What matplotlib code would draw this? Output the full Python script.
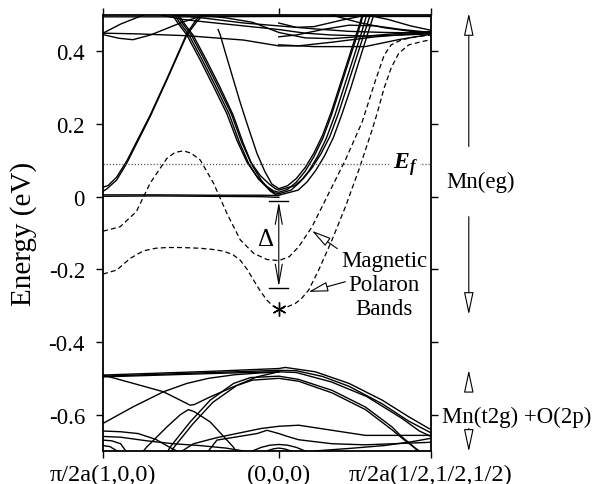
import matplotlib
matplotlib.use("Agg")
import matplotlib.pyplot as plt

plt.rcParams["font.family"] = ["Liberation Serif", "DejaVu Serif"]
plt.rcParams["mathtext.fontset"] = "custom"
plt.rcParams["mathtext.rm"] = "Liberation Serif"
plt.rcParams["mathtext.it"] = "Liberation Serif:italic"
plt.rcParams["mathtext.bf"] = "Liberation Serif:bold:italic"

# ---------------------------------------------------------------------------
# k-path: X = pi/2a(1,0,0) -> Gamma -> R = pi/2a(1/2,1/2,1/2)
# ---------------------------------------------------------------------------
K_TICKS = [0.0, 1.0, 1.866]
K_LABELS = ["π/2a(1,0,0)", "(0,0,0)", "π/2a(1/2,1/2,1/2)"]
E_TICKS = [-0.6, -0.4, -0.2, 0.0, 0.2, 0.4]
E_LABELS = ["-0.6", "-0.4", "-0.2", "0", "0.2", "0.4"]
E_MIN, E_MAX = -0.70, 0.50
E_FERMI = 0.091

# --- magnetic polaron bands (dashed), (k, E) -------------------------------
pol_upper = [(0.0, -0.095), (0.097, -0.083), (0.19, -0.041), (0.268, 0.037),
             (0.363, 0.105), (0.41, 0.122), (0.458, 0.126), (0.50, 0.120),
             (0.553, 0.101), (0.629, 0.037), (0.705, -0.046), (0.781, -0.119),
             (0.857, -0.156), (0.933, -0.173), (1.0, -0.176), (1.06, -0.165),
             (1.113, -0.138), (1.189, -0.083), (1.284, 0.009), (1.379, 0.101),
             (1.474, 0.205), (1.55, 0.32), (1.60, 0.39), (1.64, 0.418),
             (1.70, 0.432), (1.78, 0.44), (1.866, 0.445)]
pol_lower = [(0.0, -0.213), (0.078, -0.202), (0.154, -0.17), (0.23, -0.149),
             (0.30, -0.142), (0.363, -0.14), (0.45, -0.14), (0.553, -0.142),
             (0.62, -0.145), (0.686, -0.15), (0.74, -0.16), (0.781, -0.175),
             (0.82, -0.20), (0.857, -0.23), (0.895, -0.26), (0.933, -0.285),
             (0.965, -0.30), (1.0, -0.31), (1.05, -0.303), (1.094, -0.294),
             (1.13, -0.28), (1.17, -0.257), (1.227, -0.202), (1.303, -0.119),
             (1.379, -0.028), (1.455, 0.073), (1.531, 0.184), (1.56, 0.23),
             (1.60, 0.30), (1.64, 0.355), (1.683, 0.395), (1.74, 0.418),
             (1.816, 0.427), (1.866, 0.432)]
pol_min = (1.0, -0.31)

# --- Mn(eg) bands ----------------------------------------------------------
eg_par1 = [(0.395, 0.50), (0.43, 0.475), (0.477, 0.445), (0.553, 0.376),
           (0.629, 0.303), (0.705, 0.228), (0.762, 0.155), (0.819, 0.095),
           (0.876, 0.055), (0.933, 0.028), (0.97, 0.016), (1.0, 0.012),
           (1.05, 0.02), (1.10, 0.04), (1.15, 0.07), (1.20, 0.11),
           (1.25, 0.16), (1.30, 0.225), (1.35, 0.30), (1.40, 0.375),
           (1.45, 0.45), (1.48, 0.50)]
eg_par2 = [(0.407, 0.50), (0.442, 0.475), (0.489, 0.445), (0.565, 0.376),
           (0.641, 0.303), (0.717, 0.228), (0.774, 0.152), (0.83, 0.09),
           (0.885, 0.048), (0.94, 0.022), (0.975, 0.011), (1.0, 0.008),
           (1.07, 0.018), (1.12, 0.04), (1.17, 0.07), (1.22, 0.11),
           (1.27, 0.16), (1.32, 0.225), (1.37, 0.30), (1.42, 0.375),
           (1.47, 0.45), (1.50, 0.50)]
eg_par3 = [(0.42, 0.50), (0.455, 0.475), (0.502, 0.445), (0.578, 0.376),
           (0.654, 0.303), (0.73, 0.228), (0.787, 0.152), (0.84, 0.095),
           (0.895, 0.058), (0.945, 0.035), (0.98, 0.022), (1.0, 0.018),
           (1.09, 0.03), (1.14, 0.05), (1.19, 0.08), (1.24, 0.118),
           (1.29, 0.165), (1.34, 0.23), (1.39, 0.305), (1.44, 0.38),
           (1.49, 0.455), (1.52, 0.50)]
eg_par4 = [(0.43, 0.50), (0.465, 0.475), (0.512, 0.445), (0.588, 0.376),
           (0.664, 0.303), (0.74, 0.225), (0.797, 0.148), (0.85, 0.085),
           (0.905, 0.042), (0.95, 0.016), (0.98, 0.006), (1.0, 0.004),
           (1.11, 0.018), (1.16, 0.04), (1.21, 0.072), (1.26, 0.112),
           (1.31, 0.162), (1.36, 0.228), (1.41, 0.30), (1.46, 0.378),
           (1.51, 0.455), (1.54, 0.50)]
eg_steep = [(0.655, 0.46), (0.667, 0.445), (0.70, 0.39), (0.74, 0.325),
            (0.78, 0.26), (0.82, 0.20), (0.876, 0.119), (0.92, 0.07),
            (0.96, 0.035), (1.0, 0.022), (1.05, 0.03), (1.10, 0.05),
            (1.15, 0.08), (1.20, 0.12), (1.25, 0.17), (1.30, 0.235),
            (1.35, 0.31), (1.40, 0.385), (1.45, 0.46), (1.475, 0.50)]
eg_rise1 = [(0.0, 0.015), (0.021, 0.021), (0.078, 0.046), (0.135, 0.092),
            (0.192, 0.147), (0.268, 0.22), (0.363, 0.321), (0.477, 0.445),
            (0.534, 0.482), (0.57, 0.50)]
eg_rise2 = [(0.0, 0.026), (0.03, 0.031), (0.078, 0.054), (0.135, 0.098),
            (0.192, 0.152), (0.268, 0.224), (0.363, 0.324), (0.477, 0.449),
            (0.53, 0.487), (0.56, 0.50)]
eg_flat1 = [(0.0, 0.005), (0.3, 0.005), (0.6, 0.004), (0.9, 0.004), (1.0, 0.003)]
eg_flat2 = [(0.0, 0.001), (0.3, 0.002), (0.6, 0.001), (0.9, 0.0), (1.0, -0.002)]

# upper tangle of bands around 0.41 - 0.50 eV
top1 = [(0.0, 0.45), (0.2, 0.448), (0.477, 0.443), (0.8, 0.431), (1.0, 0.415),
        (1.11, 0.415), (1.3, 0.425), (1.55, 0.44), (1.866, 0.452)]
top2 = [(0.0, 0.446), (0.09, 0.436), (0.17, 0.432), (0.27, 0.445),
        (0.363, 0.463), (0.45, 0.48), (0.553, 0.496), (0.6, 0.50)]
top3 = [(0.0, 0.45), (0.1, 0.475), (0.23, 0.50)]
top4 = [(0.33, 0.50), (0.45, 0.488), (0.6, 0.48), (0.8, 0.47), (1.0, 0.46),
        (1.15, 0.45), (1.3, 0.445), (1.5, 0.442), (1.7, 0.445), (1.866, 0.448)]
top5 = [(0.42, 0.50), (0.6, 0.49), (0.8, 0.478), (1.0, 0.47), (1.2, 0.462),
        (1.4, 0.455), (1.6, 0.452), (1.866, 0.45)]
top6 = [(0.55, 0.50), (0.7, 0.492), (0.85, 0.48), (1.0, 0.452), (1.15, 0.437),
        (1.3, 0.435), (1.45, 0.44), (1.65, 0.448), (1.866, 0.455)]
top7 = [(1.0, 0.418), (1.2, 0.413), (1.49, 0.413), (1.68, 0.432), (1.866, 0.447)]
top8 = [(1.0, 0.478), (1.1, 0.466), (1.2, 0.468), (1.35, 0.485), (1.5, 0.50)]
top9 = [(1.5, 0.50), (1.62, 0.488), (1.75, 0.47), (1.866, 0.458)]
top10 = [(1.3, 0.50), (1.45, 0.48), (1.6, 0.465), (1.75, 0.455), (1.866, 0.452)]
top11 = [(1.0, 0.44), (1.1, 0.445), (1.25, 0.46), (1.4, 0.472), (1.55, 0.47),
         (1.7, 0.46), (1.866, 0.452)]
top12 = [(0.0, 0.495), (0.5, 0.495), (1.0, 0.496), (1.866, 0.496)]

# --- Mn(t2g) + O(2p) bands ---------------------------------------------------
t2g_b1 = [(0.0, -0.491), (0.3, -0.486), (0.6, -0.481), (0.85, -0.476),
          (1.0, -0.473), (1.037, -0.47), (1.208, -0.482), (1.4, -0.514),
          (1.588, -0.56), (1.74, -0.606), (1.854, -0.638), (1.866, -0.64)]
t2g_b2 = [(0.0, -0.494), (0.5, -0.486), (1.0, -0.478), (1.1, -0.479),
          (1.25, -0.495), (1.4, -0.522), (1.588, -0.57), (1.74, -0.618),
          (1.866, -0.65)]
t2g_b3 = [(0.0, -0.496), (0.6, -0.487), (0.9, -0.483), (1.0, -0.482),
          (1.1, -0.484), (1.3, -0.51), (1.5, -0.55), (1.7, -0.61),
          (1.8, -0.645), (1.866, -0.66)]
t2g_a = [(0.0, -0.491), (0.173, -0.514), (0.344, -0.537), (0.439, -0.56),
         (0.496, -0.574), (0.52, -0.572), (0.61, -0.551), (0.743, -0.523),
         (0.876, -0.496), (1.0, -0.482)]
t2g_b = [(0.0, -0.624), (0.173, -0.578), (0.344, -0.537), (0.477, -0.514),
         (0.6, -0.50), (0.75, -0.49), (0.9, -0.485), (1.0, -0.483)]
t2g_c = [(0.23, -0.70), (0.249, -0.689), (0.363, -0.634), (0.44, -0.60),
         (0.486, -0.586), (0.52, -0.592), (0.61, -0.62), (0.743, -0.69),
         (0.755, -0.70)]
t2g_d1 = [(0.37, -0.70), (0.382, -0.689), (0.496, -0.62), (0.61, -0.56),
          (0.743, -0.514), (0.838, -0.498), (1.0, -0.494), (1.113, -0.503),
          (1.303, -0.533), (1.493, -0.579), (1.645, -0.634), (1.70, -0.661),
          (1.76, -0.685), (1.79, -0.70)]
t2g_d2 = [(0.39, -0.70), (0.40, -0.692), (0.51, -0.626), (0.625, -0.566),
          (0.76, -0.52), (0.85, -0.505), (1.0, -0.50), (1.113, -0.508),
          (1.303, -0.54), (1.493, -0.586), (1.645, -0.642), (1.72, -0.672),
          (1.77, -0.69), (1.80, -0.70)]
low1 = [(0.0, -0.645), (0.1, -0.647), (0.2, -0.652), (0.3, -0.668),
        (0.38, -0.69), (0.42, -0.70)]
low2 = [(0.0, -0.66), (0.1, -0.662), (0.25, -0.672), (0.4, -0.68),
        (0.55, -0.685), (0.7, -0.692), (0.8, -0.70)]
low3 = [(0.0, -0.67), (0.05, -0.672), (0.1, -0.68), (0.13, -0.70)]
low4 = [(0.0, -0.685), (0.04, -0.688), (0.08, -0.70)]
low5 = [(0.45, -0.70), (0.515, -0.68), (0.65, -0.663), (0.8, -0.648),
        (0.9, -0.638), (1.0, -0.632), (1.113, -0.629), (1.303, -0.643),
        (1.493, -0.657), (1.866, -0.657)]
low6 = [(0.6, -0.70), (0.648, -0.67), (0.876, -0.652), (0.933, -0.643),
        (1.0, -0.652), (1.05, -0.66), (1.113, -0.669), (1.303, -0.68),
        (1.49, -0.683), (1.866, -0.676)]
low7 = [(0.85, -0.70), (0.9, -0.69), (0.95, -0.684), (1.0, -0.682),
        (1.05, -0.684), (1.1, -0.69), (1.15, -0.70)]
low8 = [(0.93, -0.70), (0.97, -0.694), (1.0, -0.692), (1.03, -0.694), (1.07, -0.70)]
low9 = [(1.2, -0.70), (1.4, -0.693), (1.6, -0.685), (1.75, -0.675), (1.866, -0.665)]

SOLID_BANDS = [eg_par1, eg_par2, eg_par3, eg_par4, eg_steep, eg_rise1, eg_rise2,
               eg_flat1, eg_flat2, top1, top2, top3, top4, top5, top6, top7,
               top8, top9, top10, top11, top12, t2g_b1, t2g_b2, t2g_b3, t2g_a,
               t2g_b, t2g_c, t2g_d1, t2g_d2, low1, low2, low3, low4, low5,
               low6, low7, low8, low9]
DASHED_BANDS = [pol_upper, pol_lower]

# gap Delta between the eg band bottom and the lower polaron band
GAP_K = 1.0
GAP_TOP, GAP_BOTTOM = -0.011, -0.251

fig = plt.figure(figsize=(6.06, 4.85), dpi=100)
ax = fig.add_axes([103 / 606, 33 / 485, 328 / 606, 436 / 485])

for band in SOLID_BANDS:
    k, e = zip(*band)
    ax.plot(k, e, color="black", lw=1.0)
for band in DASHED_BANDS:
    k, e = zip(*band)
    ax.plot(k, e, color="black", lw=0.9, dashes=(4, 2.5))
ax.plot(*pol_min, marker=(6, 2, 0), ms=10, color="black", mew=1.0)

# Fermi level
ax.axhline(E_FERMI, color="0.35", lw=0.9, ls=(0, (1, 1.5)))
ax.text(1.719, E_FERMI, r"$\mathbf{E_f}$", fontsize=17, ha="center", va="center",
        bbox=dict(fc="white", ec="none", pad=1.5))

# gap marker
ax.plot([GAP_K - 0.054, GAP_K + 0.054], [GAP_TOP, GAP_TOP], color="black", lw=1.0)
ax.plot([GAP_K - 0.054, GAP_K + 0.054], [GAP_BOTTOM, GAP_BOTTOM], color="black", lw=1.0)
ax.annotate("", xy=(GAP_K, GAP_TOP - 0.003), xytext=(GAP_K, GAP_BOTTOM + 0.003),
            arrowprops=dict(arrowstyle="<->,head_length=1.4,head_width=0.25",
                            lw=0.8, shrinkA=0, shrinkB=0, mutation_scale=10))
ax.text(0.929, -0.116, "Δ", fontsize=18, ha="center", va="center")

# polaron label
ax.text(1.60, -0.242, "Magnetic\nPolaron\nBands", fontsize=16.5, ha="center",
        va="center", linespacing=1.2)
arrow_kw = dict(arrowstyle="-|>,head_length=1.2,head_width=0.3", fc="white",
                ec="black", lw=0.8, shrinkA=0, shrinkB=0, mutation_scale=10)
ax.annotate("", xy=(1.189, -0.094), xytext=(1.333, -0.143), arrowprops=arrow_kw)
ax.annotate("", xy=(1.170, -0.262), xytext=(1.379, -0.234), arrowprops=arrow_kw)

# band-character markers on the right
side_kw = dict(arrowstyle="-|>,head_length=1.4,head_width=0.3", fc="white",
               ec="black", lw=0.8, shrinkA=0, shrinkB=0, mutation_scale=10)
x_side = 2.081
for tail, tip in [(0.138, 0.505), (-0.055, -0.325), (-0.529, -0.477),
                  (-0.638, -0.702)]:
    ax.annotate("", xy=(x_side, tip), xytext=(x_side, tail), arrowprops=side_kw,
                annotation_clip=False)
ax.text(1.951, 0.041, "Mn(eg)", fontsize=16.5, ha="left", va="center", clip_on=False)
ax.text(1.928, -0.606, "Mn(t2g) +O(2p)", fontsize=16.5, ha="left", va="center",
        clip_on=False)

ax.set_xlim(K_TICKS[0], K_TICKS[-1])
ax.set_ylim(E_MIN, E_MAX)
ax.set_xticks(K_TICKS)
ax.set_xticklabels(K_LABELS, fontsize=17.5)
ax.set_yticks(E_TICKS)
ax.set_yticklabels(E_LABELS, fontsize=16.5)
ax.tick_params(direction="out", length=5, width=1.0, top=True, right=True)
ax.tick_params(axis="y", pad=8)
ax.tick_params(axis="x", pad=4)
for sp in ax.spines.values():
    sp.set_linewidth(1.3)
ax.set_ylabel("Energy (eV)", fontsize=21)
ax.yaxis.set_label_coords(-0.20, 0.5)

fig.savefig("out.png", dpi=100)
